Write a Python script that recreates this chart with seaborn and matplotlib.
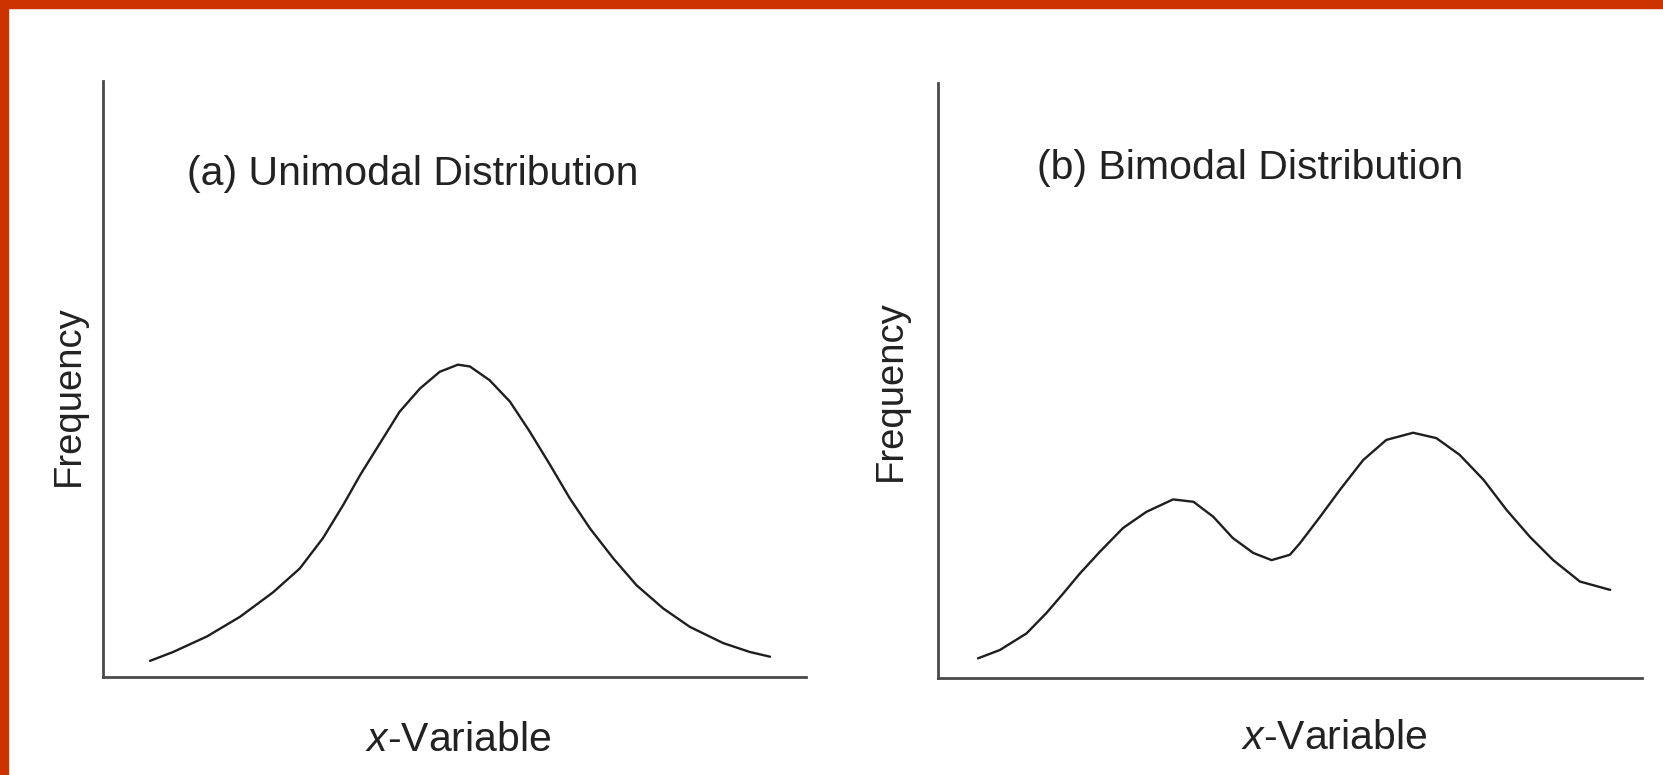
import numpy as np
import matplotlib
matplotlib.use("Agg")
import matplotlib.pyplot as plt
from matplotlib.patches import Rectangle
import seaborn as sns

# (a) unimodal curve (x and frequency in 0-10 units)
uni_x = [0.67, 1.00, 1.48, 1.95, 2.42, 2.80, 3.13, 3.42, 3.66, 3.94, 4.22, 4.51,
         4.79, 5.05, 5.22, 5.50, 5.79, 6.07, 6.36, 6.64, 6.93, 7.26, 7.59, 7.97,
         8.35, 8.82, 9.20, 9.49]
uni_y = [0.27, 0.42, 0.68, 1.01, 1.42, 1.82, 2.33, 2.89, 3.39, 3.92, 4.45, 4.84,
         5.12, 5.24, 5.21, 4.98, 4.62, 4.12, 3.56, 3.00, 2.49, 1.99, 1.54, 1.15,
         0.84, 0.57, 0.42, 0.34]

# (b) bimodal curve
bi_x = [0.57, 0.88, 1.26, 1.54, 1.78, 2.02, 2.30, 2.63, 2.96, 3.34, 3.63, 3.91,
        4.19, 4.48, 4.74, 5.00, 5.14, 5.43, 5.71, 6.04, 6.37, 6.75, 7.08, 7.41,
        7.75, 8.08, 8.41, 8.74, 9.12, 9.55]
bi_y = [0.33, 0.47, 0.75, 1.09, 1.42, 1.76, 2.12, 2.52, 2.79, 3.00, 2.96, 2.71,
        2.35, 2.10, 1.98, 2.07, 2.26, 2.71, 3.16, 3.66, 4.00, 4.12, 4.03, 3.75,
        3.33, 2.82, 2.37, 1.98, 1.62, 1.48]

titles = ["(a) Unimodal Distribution", "(b) Bimodal Distribution"]

sns.set_style("white")
plt.rcParams["font.family"] = ["Liberation Sans", "DejaVu Sans"]
plt.rcParams["mathtext.fontset"] = "custom"
plt.rcParams["mathtext.rm"] = "Liberation Sans"
plt.rcParams["mathtext.it"] = "Liberation Sans:italic"

fig = plt.figure(figsize=(16.63, 7.75), dpi=100)
fig.patch.set_facecolor("white")

# red frame on top and left
fig.patches.append(Rectangle((0, 1 - 8 / 775), 1, 8 / 775, transform=fig.transFigure,
                             color="#CC3300", zorder=0))
fig.patches.append(Rectangle((0, 0), 8 / 1663, 1, transform=fig.transFigure,
                             color="#CC3300", zorder=0))

ax1 = fig.add_axes([0.0619, 0.1265, 0.4227, 0.769])
ax2 = fig.add_axes([0.5640, 0.1252, 0.4233, 0.768])

panels = [
    (ax1, uni_x, uni_y, (0.119, 0.8435), (0.506, -0.106), (-0.048, 0.472)),
    (ax2, bi_x, bi_y, (0.141, 0.857), (0.5625, -0.101), (-0.067, 0.483)),
]

fs = 29.5
for (ax, xs, ys, tpos, xlpos, ylpos), title in zip(panels, titles):
    sns.lineplot(x=xs, y=ys, ax=ax, color="#1e1e1e", linewidth=1.7)
    ax.set_xlim(0, 10)
    ax.set_ylim(0, 10)
    ax.set_xticks([])
    ax.set_yticks([])
    for side in ["top", "right"]:
        ax.spines[side].set_visible(False)
    for side in ["left", "bottom"]:
        ax.spines[side].set_color("#4a4a4a")
        ax.spines[side].set_linewidth(2.0)
    ax.text(tpos[0], tpos[1], title, transform=ax.transAxes, fontsize=fs,
            ha="left", va="center", color="#222222")
    ax.text(xlpos[0], xlpos[1], r"$\mathit{x}$-Variable", transform=ax.transAxes,
            fontsize=fs, ha="center", va="center", color="#222222")
    ax.text(ylpos[0], ylpos[1], "Frequency", transform=ax.transAxes, fontsize=27.5,
            ha="center", va="center", rotation=90, color="#222222")

plt.savefig("out.png", dpi=100)
plt.close()
